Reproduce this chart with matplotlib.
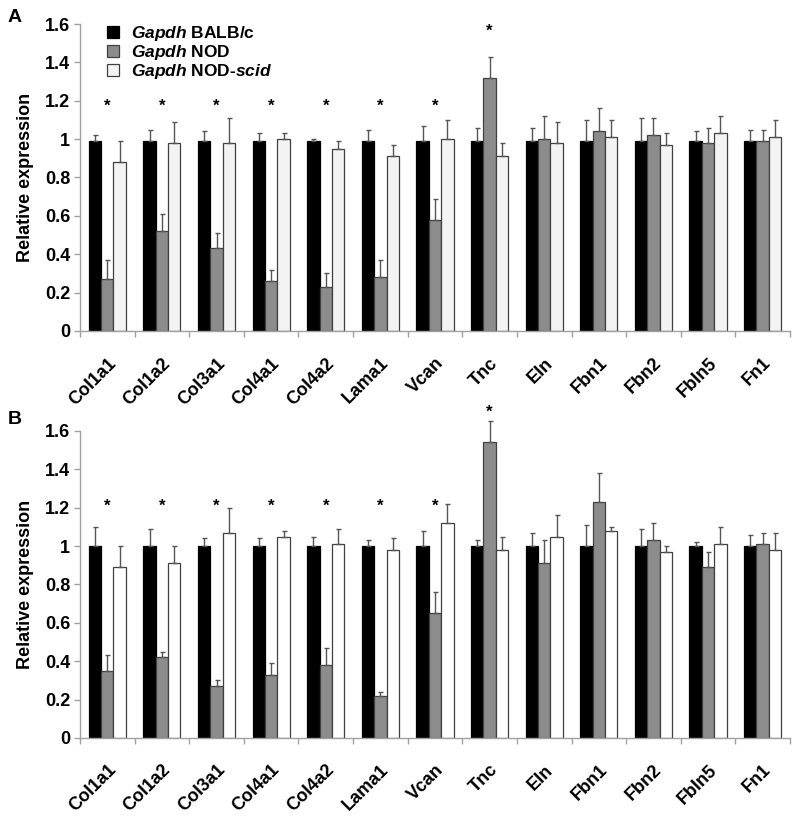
import matplotlib.pyplot as plt
import numpy as np

plt.rcParams['font.family'] = ['Liberation Sans', 'DejaVu Sans']
plt.rcParams['font.weight'] = 'bold'
plt.rcParams['mathtext.fontset'] = 'custom'
plt.rcParams['mathtext.rm'] = 'Liberation Sans:bold'
plt.rcParams['mathtext.bf'] = 'Liberation Sans:bold'
plt.rcParams['mathtext.it'] = 'Liberation Sans:italic:bold'
plt.rcParams['mathtext.bfit'] = 'Liberation Sans:italic:bold'

genes = ['Col1a1', 'Col1a2', 'Col3a1', 'Col4a1', 'Col4a2', 'Lama1', 'Vcan',
         'Tnc', 'Eln', 'Fbn1', 'Fbn2', 'Fbln5', 'Fn1']
series_names = [r'$\mathbfit{Gapdh}$ BALB/c', r'$\mathbfit{Gapdh}$ NOD',
                r'$\mathbfit{Gapdh}$ NOD-$\mathbfit{scid}$']

# panel A
a_balb = [0.99, 0.99, 0.99, 0.99, 0.99, 0.99, 0.99, 0.99, 0.99, 0.99, 0.99, 0.99, 0.99]
a_balb_err = [0.03, 0.06, 0.05, 0.04, 0.01, 0.06, 0.08, 0.07, 0.07, 0.11, 0.12, 0.05, 0.06]
a_nod = [0.27, 0.52, 0.43, 0.26, 0.23, 0.28, 0.58, 1.32, 1.00, 1.04, 1.02, 0.98, 0.99]
a_nod_err = [0.10, 0.09, 0.08, 0.06, 0.07, 0.09, 0.11, 0.11, 0.12, 0.12, 0.09, 0.08, 0.06]
a_scid = [0.88, 0.98, 0.98, 1.00, 0.95, 0.91, 1.00, 0.91, 0.98, 1.01, 0.97, 1.03, 1.01]
a_scid_err = [0.11, 0.11, 0.13, 0.03, 0.04, 0.06, 0.10, 0.07, 0.11, 0.09, 0.06, 0.09, 0.09]
a_stars = [1.17, 1.17, 1.17, 1.17, 1.17, 1.17, 1.17, 1.56, None, None, None, None, None]

# panel B
b_balb = [1.00] * 13
b_balb_err = [0.10, 0.09, 0.04, 0.04, 0.05, 0.03, 0.08, 0.03, 0.07, 0.11, 0.09, 0.02, 0.06]
b_nod = [0.35, 0.42, 0.27, 0.33, 0.38, 0.22, 0.65, 1.54, 0.91, 1.23, 1.03, 0.89, 1.01]
b_nod_err = [0.08, 0.03, 0.03, 0.06, 0.09, 0.02, 0.11, 0.11, 0.12, 0.15, 0.09, 0.08, 0.06]
b_scid = [0.89, 0.91, 1.07, 1.05, 1.01, 0.98, 1.12, 0.98, 1.05, 1.08, 0.97, 1.01, 0.98]
b_scid_err = [0.11, 0.09, 0.13, 0.03, 0.08, 0.06, 0.10, 0.07, 0.11, 0.02, 0.03, 0.09, 0.09]
b_stars = [1.21, 1.21, 1.21, 1.21, 1.21, 1.21, 1.21, 1.70, None, None, None, None, None]

fig = plt.figure(figsize=(7.95, 8.25), dpi=100)
axA = fig.add_axes([0.1006, 0.5988, 0.8931, 0.3721])
axB = fig.add_axes([0.1006, 0.1055, 0.8931, 0.3721])

x = np.arange(len(genes))
w = 0.227
axis_gray = '#a0a0a0'
err_gray = '#555555'


def draw_panel(ax, balb, balb_err, nod, nod_err, scid, scid_err, stars, white_color):
    cols = ['black', '#8c8c8c', white_color]
    edges = ['black', '#404040', '#404040']
    data = [(balb, balb_err), (nod, nod_err), (scid, scid_err)]
    handles = []
    for i, (vals, errs) in enumerate(data):
        errs = np.array(errs)
        b = ax.bar(x + (i - 1) * w, vals, w, color=cols[i], edgecolor=edges[i], linewidth=0.9,
                   yerr=[np.zeros_like(errs), errs],
                   error_kw=dict(ecolor=err_gray, elinewidth=1.0, capsize=1.8, capthick=1.0,
                                 clip_on=False),
                   label=series_names[i], zorder=2)
        handles.append(b)
    for xi, s in zip(x, stars):
        if s is not None:
            ax.text(xi, s, '*', ha='center', va='center', fontsize=12, fontweight='bold', clip_on=False)

    ax.set_xlim(-0.5, len(genes) - 0.5)
    ax.set_ylim(0, 1.6)
    ax.set_yticks(np.arange(0, 1.61, 0.2))
    ax.set_yticklabels(['0', '0.2', '0.4', '0.6', '0.8', '1', '1.2', '1.4', '1.6'])
    ax.set_xticks(x)
    ax.set_xticklabels(genes, rotation=45, ha='right', rotation_mode='anchor', fontsize=13)
    ax.set_xticks(np.arange(-0.5, len(genes)), minor=True)
    ax.tick_params(axis='x', which='major', length=0, pad=17)
    ax.tick_params(axis='x', which='minor', length=4, color=axis_gray, width=1)
    ax.tick_params(axis='y', length=4, color=axis_gray, width=1, labelsize=13, pad=3)
    for sp in ['top', 'right']:
        ax.spines[sp].set_visible(False)
    for sp in ['left', 'bottom']:
        ax.spines[sp].set_color(axis_gray)
        ax.spines[sp].set_linewidth(1)
    ax.set_ylabel('Relative expression', fontsize=13, fontweight='bold', labelpad=8)
    return handles


hA = draw_panel(axA, a_balb, a_balb_err, a_nod, a_nod_err, a_scid, a_scid_err, a_stars, '#f3f3f3')
hB = draw_panel(axB, b_balb, b_balb_err, b_nod, b_nod_err, b_scid, b_scid_err, b_stars, 'white')

axA.legend(handles=hA, loc='upper left', bbox_to_anchor=(0.038, 1.0), frameon=False,
           fontsize=12.5, handlelength=0.7, handleheight=0.7, handletextpad=0.7,
           labelspacing=0.0, borderaxespad=0, borderpad=0)

fig.text(0.009, 0.979, 'A', fontsize=14, fontweight='bold', ha='left', va='center')
fig.text(0.010, 0.492, 'B', fontsize=14, fontweight='bold', ha='left', va='center')

fig.savefig('out.png', dpi=100)
